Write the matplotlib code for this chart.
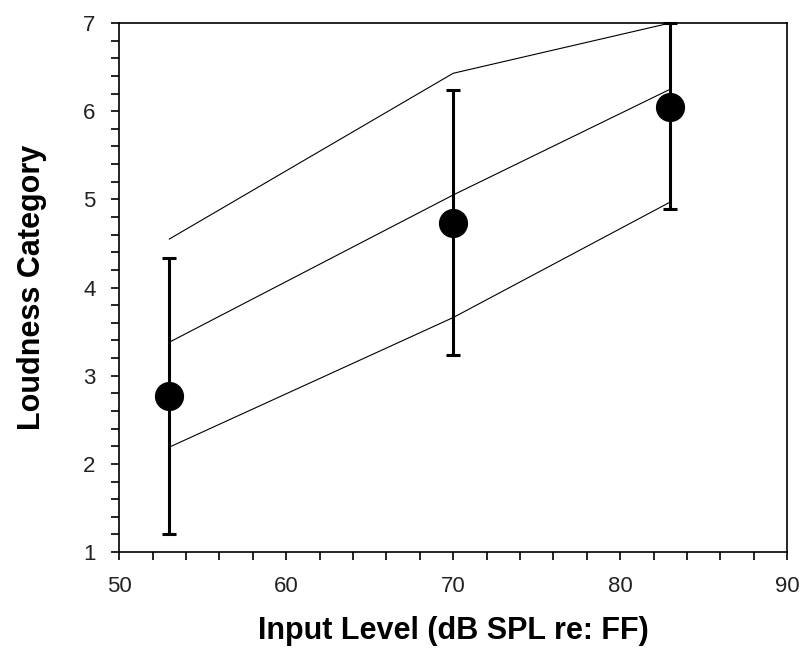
import matplotlib
matplotlib.use("Agg")
import matplotlib.pyplot as plt
from matplotlib.ticker import MultipleLocator

# measured data
levels = [53, 70, 83]
loudness = [2.77, 4.73, 6.05]
err_low = [1.57, 1.50, 1.16]
err_high = [1.56, 1.51, 0.95]

# reference curves
upper = [4.55, 6.43, 7.0]
middle = [3.38, 5.05, 6.25]
lower = [2.19, 3.66, 4.97]


def draw_chart():

    plt.rcParams['font.family'] = ['Liberation Sans', 'DejaVu Sans']

    fig = plt.figure(figsize=(8, 6.48), dpi=100)
    ax = fig.add_axes([0.149, 0.148, 0.835, 0.8165])

    for curve in (upper, middle, lower):
        ax.plot(levels, curve, color='black', lw=0.8, clip_on=False, zorder=2)

    ax.errorbar(levels, loudness, yerr=[err_low, err_high], fmt='o',
                color='black', ms=20, elinewidth=2.2, capsize=5,
                capthick=2.2, clip_on=False, zorder=3)

    ax.set_xlim(50, 90)
    ax.set_ylim(1, 7)
    ax.xaxis.set_major_locator(MultipleLocator(10))
    ax.xaxis.set_minor_locator(MultipleLocator(2))
    ax.yaxis.set_major_locator(MultipleLocator(1))
    ax.yaxis.set_minor_locator(MultipleLocator(0.2))

    ax.tick_params(which='both', direction='out', length=6, width=1.2,
                   color='black', top=False, right=False)
    ax.tick_params(which='major', labelsize=16, labelcolor='#222222', pad=11)
    for side in ax.spines.values():
        side.set_linewidth(1.2)

    ax.set_xlabel('Input Level (dB SPL re: FF)', fontsize=22,
                  fontweight='bold', labelpad=14)
    ax.set_ylabel('Loudness Category', fontsize=22, fontweight='bold',
                  labelpad=26)

    fig.savefig('out.png', dpi=100)


def main():
    draw_chart()


if __name__ == "__main__":
    main()
